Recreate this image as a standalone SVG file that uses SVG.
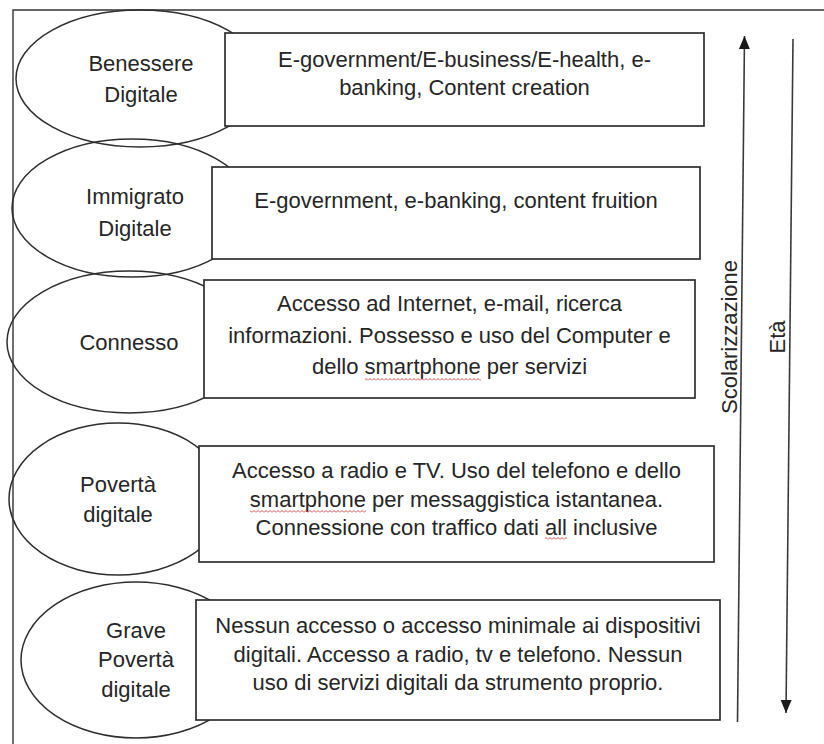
<svg xmlns="http://www.w3.org/2000/svg" width="824" height="744" viewBox="0 0 824 744">
<style>
  .lbl { font-family: "Liberation Sans", Arial, sans-serif; font-size: 22px; fill: #262626; text-anchor: middle; }
  .ell { fill: none; stroke: #2e2e2e; stroke-width: 1.5; }
  .box { fill: #ffffff; stroke: #2e2e2e; stroke-width: 1.7; }
  .axis { stroke: #3a3a3a; stroke-width: 1.6; fill: none; }
  .frame { stroke: #333333; stroke-width: 1.4; fill: none; }
</style>
<defs>
  <marker id="head" markerUnits="userSpaceOnUse" markerWidth="14" markerHeight="12" refX="13" refY="5.5" orient="auto">
    <path d="M0,0 L13,5.5 L0,11 z" fill="#1a1a1a"/>
  </marker>
  <pattern id="wave" width="4" height="3" patternUnits="userSpaceOnUse">
    <path d="M0,2.5 L2,0.5 L4,2.5" stroke="#d23a3a" stroke-width="0.9" fill="none"/>
  </pattern>
</defs>
<rect x="0" y="0" width="824" height="744" fill="#ffffff"/>
<path class="frame" d="M13,744 V10 H824"/>

<g id="ellipses">
  <g id="n-benessere"><ellipse class="ell" cx="140" cy="78.5" rx="124" ry="68.5"/></g>
  <g id="n-immigrato"><ellipse class="ell" cx="132" cy="208" rx="120" ry="69"/></g>
  <g id="n-connesso"><ellipse class="ell" cx="129" cy="342" rx="122" ry="71"/></g>
  <g id="n-poverta"><ellipse class="ell" cx="118" cy="499" rx="109" ry="76"/></g>
  <g id="n-grave"><ellipse class="ell" cx="136" cy="660" rx="115" ry="78"/></g>
</g>

<g id="ellipse-labels">
  <text class="lbl" x="141" y="71">Benessere</text>
  <text class="lbl" x="141" y="102">Digitale</text>
  <text class="lbl" x="135" y="204">Immigrato</text>
  <text class="lbl" x="135" y="236">Digitale</text>
  <text class="lbl" x="129" y="350">Connesso</text>
  <text class="lbl" x="118" y="492">Povertà</text>
  <text class="lbl" x="118" y="522">digitale</text>
  <text class="lbl" x="136" y="638">Grave</text>
  <text class="lbl" x="136" y="667">Povertà</text>
  <text class="lbl" x="136" y="697">digitale</text>
</g>

<g id="b-benessere">
  <rect class="box" x="225" y="33" width="479" height="93"/>
  <text class="lbl" x="464.5" y="67">E-government/E-business/E-health, e-</text>
  <text class="lbl" x="464.5" y="95">banking, Content creation</text>
</g>
<g id="b-immigrato">
  <rect class="box" x="212" y="167" width="488" height="92"/>
  <text class="lbl" x="456" y="208">E-government, e-banking, content fruition</text>
</g>
<g id="b-connesso">
  <rect class="box" x="204" y="280" width="491" height="118"/>
  <text class="lbl" x="449.5" y="311">Accesso ad Internet, e-mail, ricerca</text>
  <text class="lbl" x="449.5" y="343">informazioni. Possesso e uso del Computer e</text>
  <text class="lbl" x="449.5" y="374">dello smartphone per servizi</text>
  <rect x="365" y="378" width="116" height="3" fill="url(#wave)"/>
</g>
<g id="b-poverta">
  <rect class="box" x="199" y="446" width="515" height="116"/>
  <text class="lbl" x="456.5" y="478">Accesso a radio e TV. Uso del telefono e dello</text>
  <text class="lbl" x="456.5" y="507">smartphone per messaggistica istantanea.</text>
  <text class="lbl" x="456.5" y="535">Connessione con traffico dati all inclusive</text>
  <rect x="250" y="510" width="116" height="3" fill="url(#wave)"/>
  <rect x="545" y="537" width="22" height="3" fill="url(#wave)"/>
</g>
<g id="b-grave">
  <rect class="box" x="196" y="600" width="524" height="120"/>
  <text class="lbl" x="458" y="633">Nessun accesso o accesso minimale ai dispositivi</text>
  <text class="lbl" x="458" y="662">digitali. Accesso a radio, tv e telefono. Nessun</text>
  <text class="lbl" x="458" y="690">uso di servizi digitali da strumento proprio.</text>
</g>

<g id="connectors">
  <line class="axis" x1="737.5" y1="722" x2="744.5" y2="36" marker-end="url(#head)"/>
  <line class="axis" x1="793" y1="39" x2="786" y2="713" marker-end="url(#head)"/>
</g>

<g id="axis-labels">
  <text class="lbl" transform="translate(737,337) rotate(-90)">Scolarizzazione</text>
  <text class="lbl" transform="translate(785,337) rotate(-90)">Età</text>
</g>
</svg>
